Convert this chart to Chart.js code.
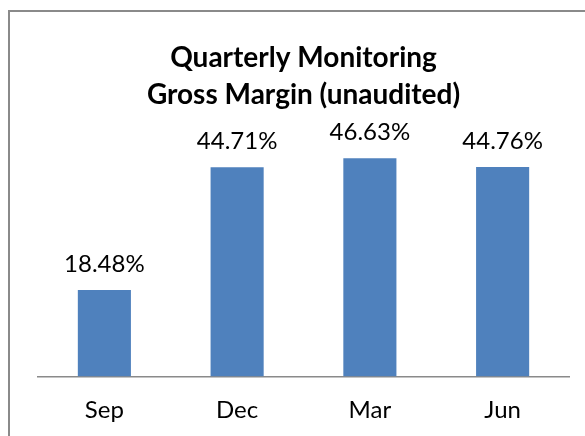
<!DOCTYPE html>
<html>
<head>
<meta charset="utf-8">
<script src="https://cdn.jsdelivr.net/npm/chart.js@4"></script>
<style>
  html, body { margin: 0; padding: 0; background: #ffffff; overflow: hidden; }
  #frame { position: absolute; left: 8px; top: 10px; width: 700px; height: 600px;
           border-left: 2px solid #8a8a8a; border-top: 2px solid #8a8a8a; }
  #c { position: absolute; left: 0; top: 0; }
</style>
</head>
<body>
<div id="frame"></div>
<canvas id="c" width="585" height="436"></canvas>
<script>
const categories = ["Sep", "Dec", "Mar", "Jun"];
const grossMargin = [18.48, 44.71, 46.63, 44.76];
const titleLines = ["Quarterly Monitoring", "Gross Margin (unaudited)"];
const yMin = 0;
const yMax = 50;

const FONT = "Lato, 'Open Sans', sans-serif";

const valueLabels = {
  id: 'valueLabels',
  afterDatasetsDraw(chart) {
    const ctx = chart.ctx;
    const meta = chart.getDatasetMeta(0);
    const data = chart.data.datasets[0].data;
    ctx.save();
    ctx.font = "24px " + FONT;
    ctx.fillStyle = "#000000";
    ctx.textAlign = "center";
    ctx.textBaseline = "alphabetic";
    meta.data.forEach((bar, i) => {
      ctx.fillText(data[i].toFixed(2) + "%", bar.x, bar.y - 18);
    });
    ctx.restore();
  }
};

new Chart(document.getElementById('c'), {
  type: 'bar',
  data: {
    labels: categories,
    datasets: [{
      data: grossMargin,
      backgroundColor: '#4F81BD',
      borderWidth: 0,
      barPercentage: 0.4,
      categoryPercentage: 1.0
    }]
  },
  options: {
    responsive: false,
    devicePixelRatio: 1,
    animation: false,
    layout: { padding: { left: 38, right: 16, top: 0, bottom: 0 } },
    plugins: {
      legend: { display: false },
      tooltip: { enabled: false },
      title: {
        display: true,
        text: titleLines,
        color: '#000000',
        font: { family: FONT, size: 28, weight: 'bold', lineHeight: 37 / 28 },
        padding: { top: 39.5, bottom: 29 }
      }
    },
    scales: {
      y: { display: false, min: yMin, max: yMax },
      x: {
        grid: { display: false, drawTicks: false },
        border: { display: true, color: '#8a8a8a', width: 1.5 },
        ticks: { color: '#000000', font: { family: FONT, size: 24 }, padding: 19.5 },
        afterFit(scale) { scale.height = 59.5; }
      }
    }
  },
  plugins: [valueLabels]
});
</script>
</body>
</html>
